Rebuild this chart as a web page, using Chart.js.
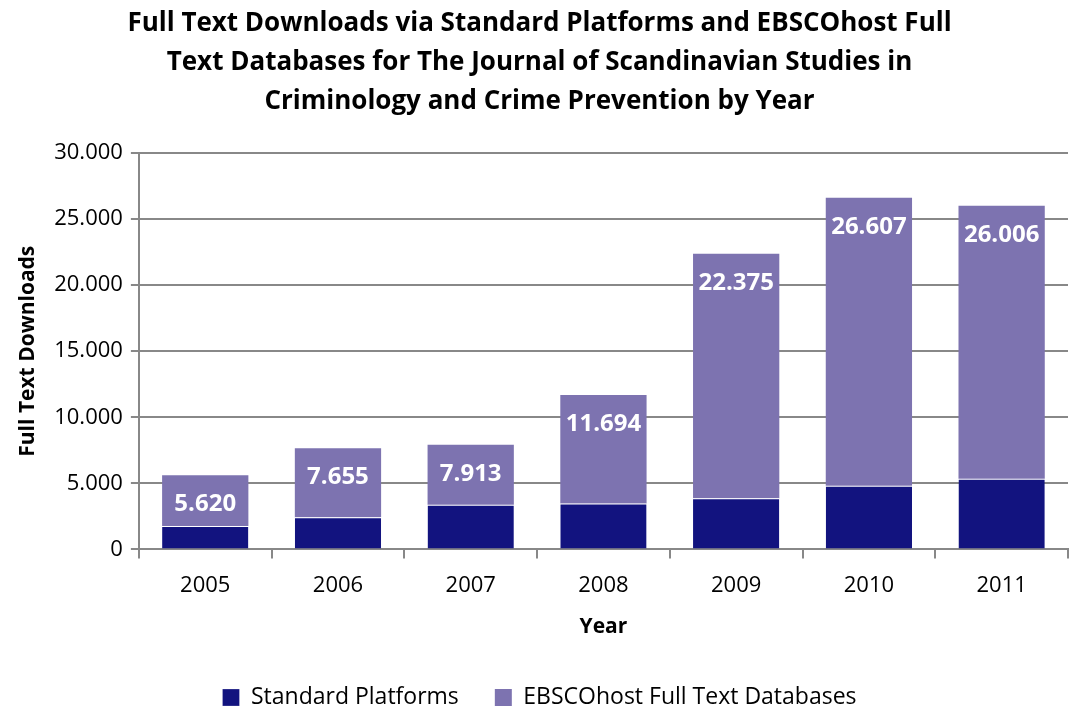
<!DOCTYPE html>
<html>
<head>
<meta charset="utf-8">
<script src="https://cdn.jsdelivr.net/npm/chart.js@4"></script>
<style>
  body { margin: 0; background: #fff; }
  #wrap { width: 1070px; height: 710px; }
</style>
</head>
<body>
<div id="wrap"><canvas id="chart" width="1070" height="710"></canvas></div>
<script>
// values
const years = ['2005', '2006', '2007', '2008', '2009', '2010', '2011'];
const totals = [5620, 7655, 7913, 11694, 22375, 26607, 26006];
const standardPlatforms = [1770, 2435, 3370, 3475, 3880, 4820, 5350];
const ebscoFullText = totals.map((t, i) => t - standardPlatforms[i]);
const yTicks = [0, 5000, 10000, 15000, 20000, 25000, 30000];

const FONT = "'Open Sans', 'DejaVu Sans', sans-serif";

function fmt(v) {
  return v === 0 ? '0' : v.toLocaleString('de-DE');
}

// total shown inside the top of each stacked bar
const totalLabels = {
  id: 'totalLabels',
  afterDatasetsDraw(chart) {
    const meta = chart.getDatasetMeta(1);
    const ctx = chart.ctx;
    ctx.save();
    ctx.font = "bold 24px " + FONT;
    ctx.fillStyle = '#ffffff';
    ctx.textAlign = 'center';
    ctx.textBaseline = 'middle';
    meta.data.forEach((bar, i) => {
      ctx.fillText(fmt(totals[i]), bar.x, bar.y + 29);
    });
    ctx.restore();
  }
};

new Chart(document.getElementById('chart').getContext('2d'), {
  type: 'bar',
  data: {
    labels: years,
    datasets: [
      {
        label: 'Standard Platforms',
        data: standardPlatforms,
        backgroundColor: '#12137f',
        borderColor: '#ffffff',
        borderWidth: { top: 1 },
        borderSkipped: false
      },
      {
        label: 'EBSCOhost Full Text Databases',
        data: ebscoFullText,
        backgroundColor: '#7d73b0',
        borderWidth: 0
      }
    ]
  },
  options: {
    responsive: false,
    devicePixelRatio: 1,
    animation: false,
    layout: { padding: { top: 4, right: 2, left: 11, bottom: -9 } },
    datasets: { bar: { categoryPercentage: 1, barPercentage: 0.65 } },
    plugins: {
      title: {
        display: true,
        text: [
          'Full Text Downloads via Standard Platforms and EBSCOhost Full',
          'Text Databases for The Journal of Scandinavian Studies in',
          'Criminology and Crime Prevention by Year'
        ],
        color: '#000',
        font: { family: FONT, size: 26, weight: 'bold', lineHeight: 1.5 },
        padding: { top: 0, bottom: 32 }
      },
      legend: {
        position: 'bottom',
        labels: {
          color: '#000',
          font: { family: FONT, size: 23 },
          boxWidth: 17,
          boxHeight: 17,
          padding: 36
        }
      },
      tooltip: { enabled: false }
    },
    scales: {
      x: {
        stacked: true,
        offset: true,
        border: { color: '#888', width: 2 },
        grid: { display: true, drawOnChartArea: false, offset: true, color: '#888', lineWidth: 2, tickLength: 9 },
        ticks: { color: '#000', font: { family: FONT, size: 22 }, padding: 14 },
        title: { display: true, text: 'Year', color: '#000', font: { family: FONT, size: 21, weight: 'bold' }, padding: { top: 2, bottom: 10 } }
      },
      y: {
        stacked: true,
        min: 0,
        max: 30000,
        afterBuildTicks(axis) { axis.ticks = yTicks.map(v => ({ value: v })); },
        border: { color: '#888', width: 2 },
        grid: { color: '#888', lineWidth: 2, tickLength: 8 },
        ticks: { color: '#000', font: { family: FONT, size: 22 }, padding: 8, callback: v => fmt(v) },
        title: { display: true, text: 'Full Text Downloads', color: '#000', font: { family: FONT, size: 21, weight: 'bold' }, padding: { bottom: 6 } }
      }
    }
  },
  plugins: [totalLabels]
});
</script>
</body>
</html>
